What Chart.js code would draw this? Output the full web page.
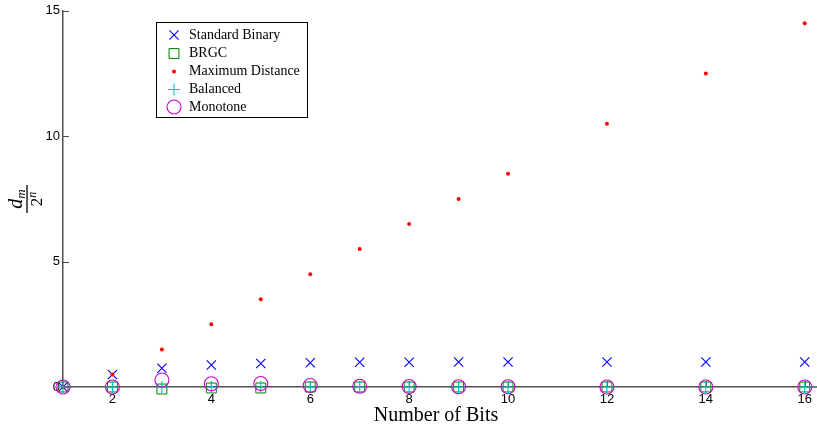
<!DOCTYPE html>
<html>
<head>
<meta charset="utf-8">
<script src="https://cdn.jsdelivr.net/npm/chart.js@4/dist/chart.umd.min.js"></script>
<style>
  html, body { margin: 0; padding: 0; background: #fff; }
  #wrap { width: 817px; height: 425px; position: relative; }
</style>
</head>
<body>
<div id="wrap"><canvas id="c" width="817" height="425"></canvas></div>
<script>
// Number of bits on the x axis
const bits = [1, 2, 3, 4, 5, 6, 7, 8, 9, 10, 12, 14, 16];

// Normalised distance d_m / 2^n for each code
const standardBinary = [0, 0.5, 0.75, 0.875, 0.9375, 0.97, 0.985, 0.99, 0.995, 0.998, 0.999, 1.0, 1.0];
const brgc           = [0, 0, -0.08, -0.04, -0.04, 0, 0, 0, 0, 0, 0, 0, 0];
const maxDistance    = [0, 0.5, 1.5, 2.5, 3.5, 4.5, 5.5, 6.5, 7.5, 8.5, 10.5, 12.5, 14.5];
const balanced       = [0, 0, 0, 0, 0, 0, 0, 0, 0, 0, 0, 0, 0];
const monotone       = [0, 0, 0.28, 0.13, 0.14, 0.06, 0.03, 0.02, 0.01, 0.01, 0, 0, 0];

const xTicks = [2, 4, 6, 8, 10, 12, 14, 16];
const yTicks = [0, 5, 10, 15];

const seriesNames = ['Standard Binary', 'BRGC', 'Maximum Distance', 'Balanced', 'Monotone'];

const pts = (ys) => bits.map((b, i) => ({ x: b, y: ys[i] }));

const AXIS = '#505050';
const SERIF = '"Liberation Serif", "DejaVu Serif", serif';
const SANS = '"Liberation Sans", Arial, sans-serif';

const datasets = [
  { label: seriesNames[0], data: pts(standardBinary), pointStyle: 'crossRot', pointRadius: 6.5,
    borderColor: '#0000ff', backgroundColor: 'rgba(0,0,0,0)', pointBorderWidth: 1.1, order: 5 },
  { label: seriesNames[1], data: pts(brgc), pointStyle: 'rect', pointRadius: 7,
    borderColor: '#008000', backgroundColor: 'rgba(0,0,0,0)', pointBorderWidth: 1, order: 4 },
  { label: seriesNames[2], data: pts(maxDistance), pointStyle: 'circle', pointRadius: 2,
    borderColor: '#ff0000', backgroundColor: '#ff0000', pointBorderWidth: 0, order: 3 },
  { label: seriesNames[3], data: pts(balanced), pointStyle: 'cross', pointRadius: 6,
    borderColor: '#00c0c0', backgroundColor: 'rgba(0,0,0,0)', pointBorderWidth: 1.1, order: 2 },
  { label: seriesNames[4], data: pts(monotone), pointStyle: 'circle', pointRadius: 7,
    borderColor: '#cc00cc', backgroundColor: 'rgba(0,0,0,0)', pointBorderWidth: 1.1, order: 1 }
].map(d => Object.assign(d, { showLine: false, clip: false, pointHoverRadius: d.pointRadius }));

// Inward tick marks on both axes, plus the x axis line running to the canvas edge
const innerTicks = {
  id: 'innerTicks',
  beforeDatasetsDraw(chart) {
    const { ctx, scales: { x, y }, width } = chart;
    ctx.save();
    ctx.strokeStyle = AXIS;
    ctx.lineWidth = 1;
    const y0 = y.getPixelForValue(0);
    const x0 = x.left;
    yTicks.forEach(v => {
      const py = Math.round(y.getPixelForValue(v)) + 0.5;
      ctx.beginPath(); ctx.moveTo(x0, py); ctx.lineTo(x0 + 6, py); ctx.stroke();
    });
    xTicks.forEach(v => {
      const px = Math.round(x.getPixelForValue(v)) + 0.5;
      ctx.beginPath(); ctx.moveTo(px, y0); ctx.lineTo(px, y0 - 6); ctx.stroke();
    });
    ctx.lineWidth = 1.5;
    ctx.beginPath(); ctx.moveTo(x.right - 1, x.top); ctx.lineTo(width, x.top); ctx.stroke();
    ctx.restore();
  }
};

// Axis titles: fraction on the left, plain title below
const axisTitles = {
  id: 'axisTitles',
  afterDraw(chart) {
    const { ctx } = chart;
    ctx.save();
    ctx.fillStyle = '#000';
    ctx.font = '20px ' + SERIF;
    ctx.textAlign = 'center';
    ctx.textBaseline = 'alphabetic';
    ctx.fillText('Number of Bits', 436, 421);

    // d_m over 2^n, rotated
    ctx.translate(27, 199);
    ctx.rotate(-Math.PI / 2);
    ctx.strokeStyle = '#000';
    ctx.lineWidth = 1.3;
    ctx.beginPath(); ctx.moveTo(-14, 0); ctx.lineTo(14, 0); ctx.stroke();
    ctx.textAlign = 'left';
    ctx.font = 'italic 20px ' + SERIF;
    const dW = ctx.measureText('d').width;
    ctx.font = 'italic 13px ' + SERIF;
    const mW = ctx.measureText('m').width;
    let sx = -(dW + mW) / 2;
    ctx.font = 'italic 20px ' + SERIF;
    ctx.fillText('d', sx, -5);
    ctx.font = 'italic 13px ' + SERIF;
    ctx.fillText('m', sx + dW, -2);
    ctx.font = '17px ' + SERIF;
    const tW = ctx.measureText('2').width;
    ctx.font = 'italic 12px ' + SERIF;
    const nW = ctx.measureText('n').width;
    sx = -(tW + nW) / 2;
    ctx.font = '17px ' + SERIF;
    ctx.fillText('2', sx, 15);
    ctx.font = 'italic 12px ' + SERIF;
    ctx.fillText('n', sx + tW, 9);
    ctx.restore();
  }
};

// Boxed legend inside the plot area
const boxLegend = {
  id: 'boxLegend',
  afterDraw(chart) {
    const { ctx } = chart;
    const bx = 156.5, by = 22.5, bw = 151, bh = 95;
    ctx.save();
    ctx.fillStyle = '#fff';
    ctx.fillRect(bx, by, bw, bh);
    ctx.strokeStyle = '#000';
    ctx.lineWidth = 1;
    ctx.strokeRect(bx, by, bw, bh);
    const rows = [35, 53.5, 71.5, 89.5, 107];
    chart.data.datasets.forEach((ds, i) => {
      const cy = rows[i];
      ctx.strokeStyle = ds.borderColor;
      ctx.fillStyle = ds.backgroundColor;
      ctx.lineWidth = ds.pointBorderWidth || 1;
      Chart.helpers.drawPoint(ctx, {
        pointStyle: ds.pointStyle, radius: ds.pointRadius, rotation: 0,
        borderWidth: ds.pointBorderWidth
      }, 174, cy);
      ctx.fillStyle = '#000';
      ctx.font = '14px ' + SERIF;
      ctx.textAlign = 'left';
      ctx.textBaseline = 'middle';
      ctx.fillText(ds.label, 189, cy);
    });
    ctx.restore();
  }
};

new Chart(document.getElementById('c'), {
  type: 'scatter',
  data: { datasets },
  options: {
    responsive: false,
    animation: false,
    events: [],
    layout: { padding: { left: 0, top: 10, right: 0, bottom: 0 } },
    plugins: { legend: { display: false }, tooltip: { enabled: false } },
    scales: {
      x: {
        type: 'linear', min: 1, max: 16.06,
        afterBuildTicks(s) { s.ticks = xTicks.map(v => ({ value: v })); },
        afterFit(s) { s.height = 38; },
        grid: { display: true, drawOnChartArea: false, drawTicks: false },
        border: { display: true, color: AXIS, width: 1.5 },
        ticks: { padding: 5, color: '#000', font: { family: SANS, size: 13 }, maxRotation: 0, autoSkip: false }
      },
      y: {
        type: 'linear', min: 0, max: 15,
        afterBuildTicks(s) { s.ticks = yTicks.map(v => ({ value: v })); },
        afterFit(s) { s.width = 63; },
        grid: { display: true, drawOnChartArea: false, drawTicks: false },
        border: { display: true, color: AXIS, width: 1.5 },
        ticks: { padding: 3, color: '#000', font: { family: SANS, size: 13 } }
      }
    }
  },
  plugins: [innerTicks, axisTitles, boxLegend]
});
</script>
</body>
</html>
